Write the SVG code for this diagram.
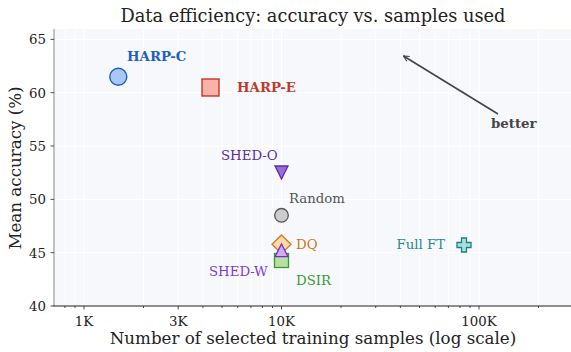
<svg xmlns="http://www.w3.org/2000/svg" width="571" height="352" viewBox="0 0 571 352">
<style>
text{font-family:"DejaVu Serif","Liberation Serif",serif;fill:#222}
.tick{font-size:13.3px}
.axl{font-size:16.7px}
.lbl{font-size:13.3px}
.b{font-weight:bold}
.g{stroke:#ffffff;stroke-width:1}
.gm{stroke:#ffffff;stroke-width:0.8}
.tk{stroke:#222;stroke-width:0.8}
</style>
<defs>
<marker id="ah" viewBox="0 0 10 10" refX="9" refY="5" markerWidth="7" markerHeight="7" orient="auto-start-reverse" markerUnits="userSpaceOnUse">
<path d="M1,1 L9,5 L1,9" fill="none" stroke="#444" stroke-width="1.6"/>
</marker>
</defs>
<rect width="571" height="352" fill="#ffffff"/>
<g id="axes">
<rect x="54" y="29" width="517" height="277" fill="#f7f8fc"/>
<g id="grid">
<line class="gm" x1="64.9" y1="29" x2="64.9" y2="306"/>
<line class="gm" x1="75" y1="29" x2="75" y2="306"/>
<line class="g" x1="84" y1="29" x2="84" y2="306"/>
<line class="gm" x1="143.5" y1="29" x2="143.5" y2="306"/>
<line class="g" x1="178.2" y1="29" x2="178.2" y2="306"/>
<line class="gm" x1="202.9" y1="29" x2="202.9" y2="306"/>
<line class="gm" x1="222" y1="29" x2="222" y2="306"/>
<line class="gm" x1="237.7" y1="29" x2="237.7" y2="306"/>
<line class="gm" x1="250.9" y1="29" x2="250.9" y2="306"/>
<line class="gm" x1="262.4" y1="29" x2="262.4" y2="306"/>
<line class="gm" x1="272.5" y1="29" x2="272.5" y2="306"/>
<line class="g" x1="281.5" y1="29" x2="281.5" y2="306"/>
<line class="gm" x1="341" y1="29" x2="341" y2="306"/>
<line class="gm" x1="375.7" y1="29" x2="375.7" y2="306"/>
<line class="gm" x1="400.4" y1="29" x2="400.4" y2="306"/>
<line class="gm" x1="419.5" y1="29" x2="419.5" y2="306"/>
<line class="gm" x1="435.2" y1="29" x2="435.2" y2="306"/>
<line class="gm" x1="448.4" y1="29" x2="448.4" y2="306"/>
<line class="gm" x1="459.9" y1="29" x2="459.9" y2="306"/>
<line class="gm" x1="470" y1="29" x2="470" y2="306"/>
<line class="g" x1="479" y1="29" x2="479" y2="306"/>
<line class="gm" x1="538.5" y1="29" x2="538.5" y2="306"/>
<line class="g" x1="54" y1="39.4" x2="571" y2="39.4"/>
<line class="g" x1="54" y1="92.7" x2="571" y2="92.7"/>
<line class="g" x1="54" y1="146" x2="571" y2="146"/>
<line class="g" x1="54" y1="199.4" x2="571" y2="199.4"/>
<line class="g" x1="54" y1="252.7" x2="571" y2="252.7"/>
</g>
<line x1="54" y1="29" x2="54" y2="306.4" stroke="#888" stroke-width="1"/>
<line x1="53.6" y1="306" x2="571" y2="306" stroke="#222" stroke-width="1"/>
<g id="yticks">
<line class="tk" x1="50.5" y1="39.4" x2="54" y2="39.4"/>
<line class="tk" x1="50.5" y1="92.7" x2="54" y2="92.7"/>
<line class="tk" x1="50.5" y1="146" x2="54" y2="146"/>
<line class="tk" x1="50.5" y1="199.4" x2="54" y2="199.4"/>
<line class="tk" x1="50.5" y1="252.7" x2="54" y2="252.7"/>
<line class="tk" x1="50.5" y1="306" x2="54" y2="306"/>
<text class="tick" x="46" y="44.2" text-anchor="end">65</text>
<text class="tick" x="46" y="97.5" text-anchor="end">60</text>
<text class="tick" x="46" y="150.8" text-anchor="end">55</text>
<text class="tick" x="46" y="204.2" text-anchor="end">50</text>
<text class="tick" x="46" y="257.5" text-anchor="end">45</text>
<text class="tick" x="46" y="310.8" text-anchor="end">40</text>
</g>
<g id="xticks">
<line class="tk" x1="84" y1="306" x2="84" y2="309.5"/>
<line class="tk" x1="178.2" y1="306" x2="178.2" y2="309.5"/>
<line class="tk" x1="281.5" y1="306" x2="281.5" y2="309.5"/>
<line class="tk" x1="479" y1="306" x2="479" y2="309.5"/>
<path class="tk" d="M64.9,306v2M75,306v2M143.5,306v2M202.9,306v2M222,306v2M237.7,306v2M250.9,306v2M262.4,306v2M272.5,306v2M341,306v2M375.7,306v2M400.4,306v2M419.5,306v2M435.2,306v2M448.4,306v2M459.9,306v2M470,306v2M538.5,306v2"/>
<text class="tick" x="84" y="325.5" text-anchor="middle">1K</text>
<text class="tick" x="178.2" y="325.5" text-anchor="middle">3K</text>
<text class="tick" x="281.5" y="325.5" text-anchor="middle">10K</text>
<text class="tick" x="479" y="325.5" text-anchor="middle">100K</text>
</g>
<text class="axl" x="313" y="344" text-anchor="middle">Number of selected training samples (log scale)</text>
<text class="axl" x="0" y="0" text-anchor="middle" transform="translate(20.5,168) rotate(-90)">Mean accuracy (%)</text>
<text x="313" y="21.5" text-anchor="middle" style="font-size:17.8px">Data efficiency: accuracy vs. samples used</text>
</g>
<g id="connectors">
<line x1="498" y1="114" x2="403.5" y2="56" stroke="#444" stroke-width="1.6" marker-end="url(#ah)"/>
<text class="lbl b" x="491" y="128" style="fill:#444">better</text>
</g>
<g id="node-harp-c">
<circle cx="118.3" cy="76.7" r="8.5" fill="#a9c8f7" stroke="#1f5fbf" stroke-width="1.4"/>
<text class="lbl b" x="127" y="61" style="fill:#1f5fbf">HARP-C</text>
</g>
<g id="node-harp-e">
<rect x="202" y="79" width="17" height="17" fill="#f9b2a8" stroke="#c0392b" stroke-width="1.4"/>
<text class="lbl b" x="237" y="92" style="fill:#c0392b">HARP-E</text>
</g>
<g id="node-shed-o">
<path d="M275,166 L288,166 L281.5,179 Z" fill="#9b6ae0" stroke="#5a2ca0" stroke-width="1.3"/>
<text class="lbl" x="221" y="160" style="fill:#5a2ca0">SHED-O</text>
</g>
<g id="node-random">
<circle cx="281.5" cy="215.3" r="6.8" fill="#cccccc" stroke="#555" stroke-width="1.3"/>
<text class="lbl" x="289" y="203" style="fill:#555">Random</text>
</g>
<g id="node-dsir">
<rect x="274.5" y="253.5" width="14" height="14" fill="#b8e0a0" stroke="#3a9a30" stroke-width="1.3"/>
<text class="lbl" x="296" y="285" style="fill:#3a9a30">DSIR</text>
</g>
<g id="node-dq">
<path d="M281.5,235 L291,244.3 L281.5,253.6 L272,244.3 Z" fill="#fdd9a8" stroke="#c87820" stroke-width="1.3"/>
<text class="lbl" x="296" y="249" style="fill:#c87820">DQ</text>
</g>
<g id="node-shed-w">
<path d="M281.5,244 L288,256.7 L275,256.7 Z" fill="#cfaef5" stroke="#7030c0" stroke-width="1.3"/>
<text class="lbl" x="209" y="276" style="fill:#7b3fd0">SHED-W</text>
</g>
<g id="node-full-ft">
<path d="M461.5,238 h5 v4.5 h4.5 v5 h-4.5 v4.5 h-5 v-4.5 h-4.5 v-5 h4.5 Z" fill="#a8e0e0" stroke="#1f8080" stroke-width="1.3"/>
<text class="lbl" x="396.5" y="249" style="fill:#2a8a8a">Full FT</text>
</g>
</svg>
